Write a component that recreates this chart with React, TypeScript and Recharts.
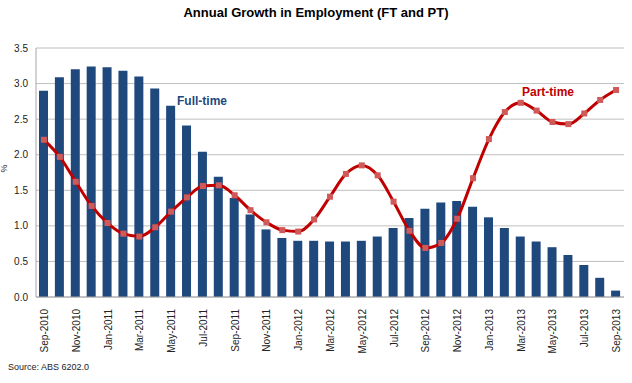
import {
  Bar,
  CartesianGrid,
  ComposedChart,
  Line,
  XAxis,
  YAxis,
} from "recharts";

const months: Array<string> = [
  "Sep-2010", "Oct-2010", "Nov-2010", "Dec-2010", "Jan-2011", "Feb-2011",
  "Mar-2011", "Apr-2011", "May-2011", "Jun-2011", "Jul-2011", "Aug-2011",
  "Sep-2011", "Oct-2011", "Nov-2011", "Dec-2011", "Jan-2012", "Feb-2012",
  "Mar-2012", "Apr-2012", "May-2012", "Jun-2012", "Jul-2012", "Aug-2012",
  "Sep-2012", "Oct-2012", "Nov-2012", "Dec-2012", "Jan-2013", "Feb-2013",
  "Mar-2013", "Apr-2013", "May-2013", "Jun-2013", "Jul-2013", "Aug-2013",
  "Sep-2013",
];

const fullTime: Array<number> = [
  2.9, 3.09, 3.2, 3.24, 3.23, 3.18, 3.1, 2.93, 2.69, 2.41, 2.04, 1.69,
  1.39, 1.16, 0.95, 0.83, 0.79, 0.79, 0.78, 0.78, 0.79, 0.85, 0.97, 1.11,
  1.24, 1.33, 1.35, 1.27, 1.12, 0.97, 0.85, 0.78, 0.7, 0.59, 0.45, 0.27,
  0.09,
];

const partTime: Array<number> = [
  2.21, 1.97, 1.62, 1.28, 1.04, 0.89, 0.85, 0.98, 1.2, 1.4, 1.56, 1.57,
  1.43, 1.22, 1.05, 0.94, 0.92, 1.09, 1.41, 1.73, 1.85, 1.71, 1.34, 0.93,
  0.69, 0.76, 1.1, 1.67, 2.22, 2.6, 2.73, 2.62, 2.46, 2.43, 2.58, 2.77,
  2.91,
];

const yTicks: Array<number> = [0, 0.5, 1, 1.5, 2, 2.5, 3, 3.5];

const data = months.map((m, i) => ({
  month: m,
  ft: fullTime[i],
  pt: partTime[i],
}));

const FONT = "'Liberation Sans', Arial, sans-serif";

function MonthTick(props: any) {
  const { x, y, payload } = props;
  return (
    <text
      x={0}
      y={0}
      transform={`translate(${x + 4},${y + 4}) rotate(-90)`}
      textAnchor="end"
      fontSize={10}
      fontFamily={FONT}
      fill="#222"
    >
      {payload.value}
    </text>
  );
}

function SquareDot(props: any) {
  const { cx, cy, index } = props;
  if (cx == null || cy == null) return null;
  return (
    <rect
      key={"d" + index}
      x={cx - 3}
      y={cy - 3}
      width={6}
      height={6}
      fill="#D05A5A"
    />
  );
}

export default function App() {
  return (
    <div
      style={{
        position: "absolute",
        left: 0,
        top: 0,
        width: 632,
        height: 383,
        background: "#fff",
        fontFamily: FONT,
      }}
    >
      <div
        style={{
          position: "absolute",
          top: 5,
          left: 0,
          width: 632,
          textAlign: "center",
          fontWeight: "bold",
          fontSize: 13,
          color: "#000",
        }}
      >
        Annual Growth in Employment (FT and PT)
      </div>
      <ComposedChart
        width={632}
        height={383}
        data={data}
        margin={{ top: 48, right: 8, bottom: 30, left: 0 }}
      >
        <CartesianGrid vertical={false} stroke="#BFBFBF" />
        <XAxis
          dataKey="month"
          interval={1}
          height={56}
          tick={<MonthTick />}
          tickLine={false}
          axisLine={{ stroke: "#A6A6A6" }}
        />
        <YAxis
          width={36}
          domain={[0, 3.5]}
          ticks={yTicks}
          tickFormatter={(v: number) => v.toFixed(1)}
          tick={{ fontSize: 10, fill: "#222", fontFamily: FONT }}
          tickLine={false}
          axisLine={{ stroke: "#A6A6A6" }}
          label={{
            value: "%",
            angle: -90,
            position: "insideLeft",
            offset: 4,
            style: { fontSize: 9, fill: "#222", fontFamily: FONT },
          }}
        />
        <Bar
          dataKey="ft"
          fill="#1F497D"
          barSize={9}
          isAnimationActive={false}
        />
        <Line
          dataKey="pt"
          type="monotone"
          stroke="#C00000"
          strokeWidth={3}
          dot={<SquareDot />}
          activeDot={false}
          isAnimationActive={false}
        />
      </ComposedChart>
      <div
        style={{
          position: "absolute",
          left: 177,
          top: 94,
          fontWeight: "bold",
          fontSize: 12,
          color: "#1F497D",
        }}
      >
        Full-time
      </div>
      <div
        style={{
          position: "absolute",
          left: 522,
          top: 85,
          fontWeight: "bold",
          fontSize: 12,
          color: "#C00000",
        }}
      >
        Part-time
      </div>
      <div
        style={{
          position: "absolute",
          left: 8,
          top: 362,
          fontSize: 9,
          color: "#222",
        }}
      >
        Source: ABS 6202.0
      </div>
    </div>
  );
}
